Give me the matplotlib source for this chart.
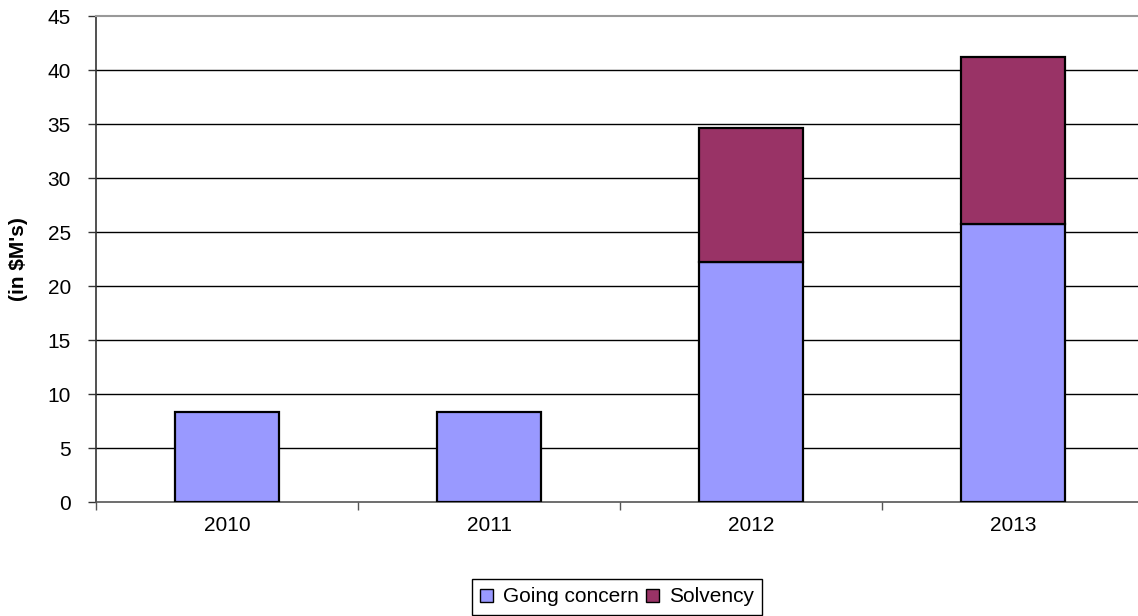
import numpy as np
import matplotlib
matplotlib.use('Agg')
import matplotlib.pyplot as plt
from matplotlib.patches import Patch

plt.rcParams['font.family'] = ['Liberation Sans', 'DejaVu Sans']

# Data (in $M's)
years = ['2010', '2011', '2012', '2013']
going_concern = [8.3, 8.3, 22.2, 25.7]
solvency = [0.0, 0.0, 12.4, 15.5]

fs = 15
blue = '#9999FF'
maroon = '#993366'

fig = plt.figure(figsize=(11.38, 6.16), dpi=100)
ax = fig.add_axes([96 / 1138, 114 / 616, 1048 / 1138, 486 / 616])

x = np.arange(len(years))
ax.bar(x, going_concern, width=0.4, color=blue, edgecolor='black', linewidth=1.6, zorder=3)
# only stack solvency where there is some
sol_mask = np.array(solvency) > 0
ax.bar(x[sol_mask], np.array(solvency)[sol_mask], width=0.4,
       bottom=np.array(going_concern)[sol_mask],
       color=maroon, edgecolor='black', linewidth=1.6, zorder=3)

# Axis limits and ticks
ax.set_xlim(-0.5, len(years) - 0.5)
ax.set_ylim(0, 45)
ax.set_yticks(np.arange(0, 46, 5))
ax.set_xticks(x)
ax.set_xticklabels(years)
ax.set_xticks(np.arange(-0.5, len(years)), minor=True)

ax.tick_params(axis='y', which='major', length=6, width=1, direction='out',
               pad=12, labelsize=fs, color='#333333')
ax.tick_params(axis='x', which='major', length=0, pad=10, labelsize=fs)
ax.tick_params(axis='x', which='minor', length=6, width=1, direction='out', color='#555555')

# Gridlines
for v in np.arange(5, 45, 5):
    ax.axhline(v, color='black', linewidth=1, zorder=1)

ax.spines['right'].set_visible(False)
ax.spines['top'].set_color('#999999')
ax.spines['top'].set_linewidth(1.5)
ax.spines['left'].set_color('#333333')
ax.spines['left'].set_linewidth(1.2)
ax.spines['bottom'].set_color('#555555')
ax.spines['bottom'].set_linewidth(1.2)

ax.set_ylabel("(in $M's)", fontsize=fs, fontweight='bold', va='center')
ax.yaxis.set_label_coords(-78 / 1048, 0.5)

# Legend
handles = [Patch(facecolor=blue, edgecolor='black', linewidth=1),
           Patch(facecolor=maroon, edgecolor='black', linewidth=1)]
leg = fig.legend(handles, ['Going concern', 'Solvency'], loc='center',
                 bbox_to_anchor=(617 / 1138, 19 / 616), ncol=2, fontsize=fs,
                 frameon=True, fancybox=False, shadow=False, framealpha=1,
                 edgecolor='black', handlelength=0.6, handleheight=0.6,
                 handletextpad=0.5, columnspacing=0.35, borderpad=0.4,
                 borderaxespad=0)
leg.get_frame().set_linewidth(1)

fig.savefig('out.png', dpi=100)
